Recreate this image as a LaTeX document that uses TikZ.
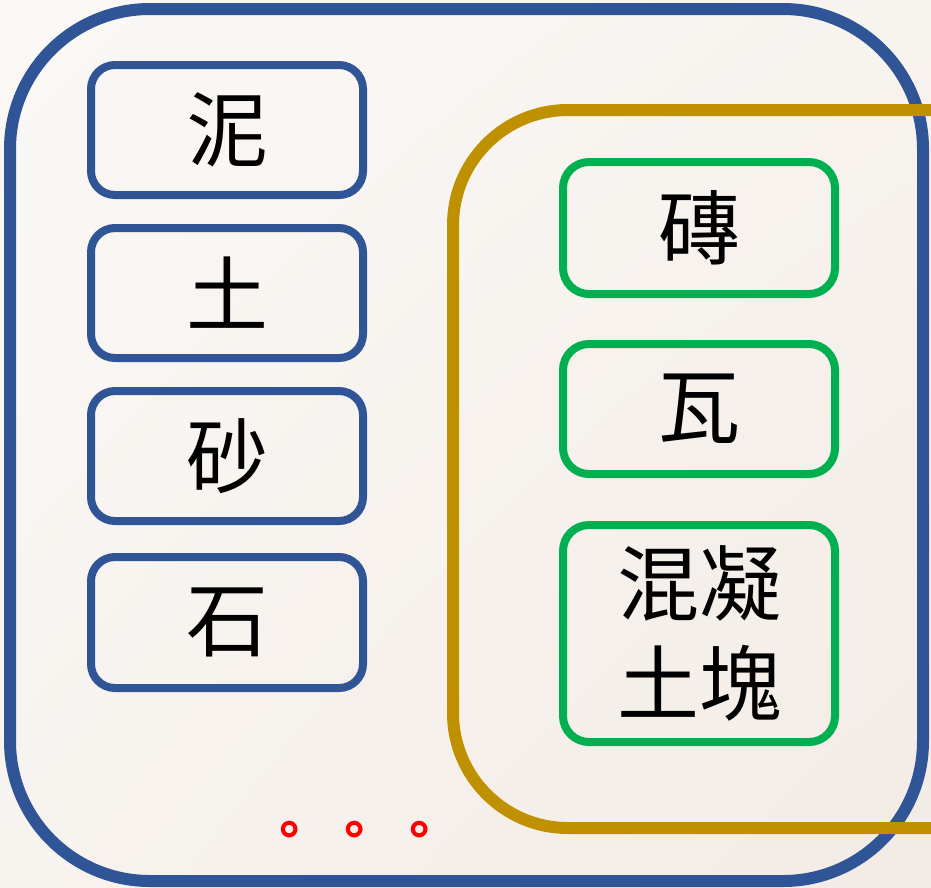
\documentclass[tikz,border=0pt]{standalone}
\usepackage{fontspec}
\usetikzlibrary{shadings}
\newfontfamily\cjk{Noto Sans CJK TC}
\definecolor{bgA}{HTML}{FAF8F6}
\definecolor{bgB}{HTML}{F7F3EF}
\definecolor{bgC}{HTML}{F3EBE5}
\definecolor{outerblue}{HTML}{2F5597}
\definecolor{gold}{HTML}{BF9000}
\definecolor{grn}{HTML}{00B050}
\definecolor{dotred}{HTML}{FF0000}
\tikzset{
  bluebox/.style={draw=outerblue, line width=8pt, rounded corners=24pt,
    minimum width=272pt, inner sep=0pt, font=\cjk\fontsize{82}{100}\selectfont, text=black},
  greenbox/.style={draw=grn, line width=8pt, rounded corners=26pt,
    minimum width=272pt, inner sep=0pt, font=\cjk\fontsize{82}{100}\selectfont, text=black, align=center},
  reddot/.style={inner sep=0pt, text=dotred, font=\cjk\bfseries\fontsize{50}{60}\selectfont}
}
\begin{document}
\begin{tikzpicture}[x=1pt,y=-1pt]
  \useasboundingbox (0,0) rectangle (931,887);
  \shade[upper left=bgA, upper right=bgB, lower left=bgB, lower right=bgC] (0,0) rectangle (931,887);
  % outer blue frame
  \draw[outerblue, line width=12pt, rounded corners=140pt] (10,9) rectangle (923,881);
  % gold open frame
  \draw[gold, line width=12pt, rounded corners=115pt] (960,110) -- (453,110) -- (453,828) -- (960,828);
  % left column
  \node[bluebox, minimum height=130pt] (ni) at (227,130) {泥};
  \node[bluebox, minimum height=130pt] (tu) at (227,293) {土};
  \node[bluebox, minimum height=130pt] (sha) at (227,456) {砂};
  \node[bluebox, minimum height=131pt] (shi) at (227,622.5) {石};
  % right column
  \node[greenbox, minimum height=132pt] (zhuan) at (699,228) {磚};
  \node[greenbox, minimum height=130pt] (wa) at (699,409) {瓦};
  \node[greenbox, minimum height=217pt] (hnt) at (699,633.5) {混凝\\土塊};
  % dots
  \node[reddot] (d1) at (289,835) {。};
  \node[reddot] (d2) at (354,835) {。};
  \node[reddot] (d3) at (419,835) {。};
\end{tikzpicture}
\end{document}
